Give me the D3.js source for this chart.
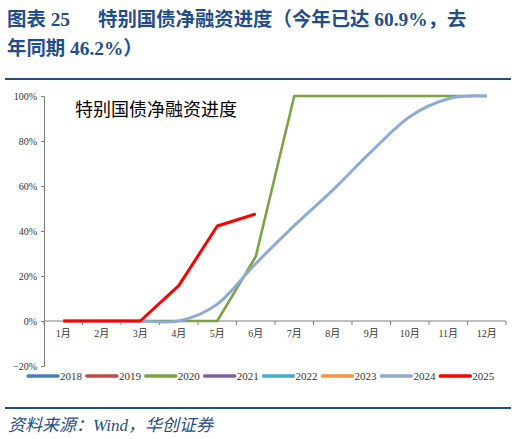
<!DOCTYPE html>
<html>
<head>
<meta charset="utf-8">
<script src="https://cdn.jsdelivr.net/npm/d3@7"></script>
<style>
  body { margin: 0; background: #fff; }
  text { font-family: "Liberation Serif", "Noto Sans CJK SC", serif; }
</style>
</head>
<body>
<div id="chart"></div>
<script>
// chart data
const months = ["1月", "2月", "3月", "4月", "5月", "6月", "7月", "8月", "9月", "10月", "11月", "12月"];
const years = ["2018", "2019", "2020", "2021", "2022", "2023", "2024", "2025"];
const yTicks = [-0.2, 0, 0.2, 0.4, 0.6, 0.8, 1.0];
const s2018 = [];
const s2019 = [];
const s2020 = [0, 0, 0, 0, 0, 0.286, 1, 1, 1, 1, 1, 1];
const s2021 = [];
const s2022 = [];
const s2023 = [];
const s2024 = [0, 0, 0, 0, 0.075, 0.255, 0.424, 0.582, 0.753, 0.908, 0.988, 1];
const s2025 = [0, 0, 0, 0.157, 0.422, 0.476];

const seriesList = [s2018, s2019, s2020, s2021, s2022, s2023, s2024, s2025];
const colors = ["#4a7ebb", "#be4b48", "#7ba346", "#7d60a0", "#46aac5", "#f69240", "#8eaad8", "#ff0000"];
const widths = [3, 3, 2.6, 3, 3, 3, 3, 3];

const W = 516, H = 439;
const navy = "#1f4e8c";

const svg = d3.select("#chart").append("svg")
  .attr("width", W).attr("height", H);

svg.append("rect").attr("width", W).attr("height", H).attr("fill", "#fff");

// Heading
const head = svg.append("g")
  .attr("fill", navy)
  .style("font-weight", "bold")
  .style("font-size", "19.4px");
head.append("text").attr("x", 7).attr("y", 26).text("图表 25");
head.append("text").attr("x", 98).attr("y", 26).text("特别国债净融资进度（今年已达 60.9%，去");
head.append("text").attr("x", 7).attr("y", 55).text("年同期 46.2%）");

svg.append("line")
  .attr("x1", 5).attr("x2", 511).attr("y1", 79).attr("y2", 79)
  .attr("stroke", navy).attr("stroke-width", 2);

// Scales
const x = d3.scaleBand().domain(months).range([44, 506]);
const y = d3.scaleLinear().domain([-0.2, 1]).range([366, 96]);

// Y axis
const yAxis = svg.append("g")
  .attr("transform", "translate(44,0)")
  .call(d3.axisLeft(y).tickValues(yTicks).tickFormat(d3.format(".0%")).tickSize(3).tickPadding(4));
yAxis.select(".domain").attr("stroke", "#7f7f7f");
yAxis.selectAll(".tick line").attr("stroke", "#7f7f7f");
yAxis.selectAll(".tick text")
  .attr("fill", "#333")
  .style("font-size", "10px")
  .style("font-family", "'Liberation Serif', serif");

// X axis on the zero line, ticks between categories
const y0 = y(0);
const xAxis = svg.append("g");
xAxis.append("line")
  .attr("x1", x.range()[0]).attr("x2", x.range()[1])
  .attr("y1", y0).attr("y2", y0)
  .attr("stroke", "#7f7f7f");
const bounds = months.map((m) => x(m) + x.bandwidth()).concat([x(months[0])]);
xAxis.selectAll(".xt")
  .data(bounds)
  .enter()
  .append("line")
  .attr("class", "xt")
  .attr("x1", (d) => d).attr("x2", (d) => d)
  .attr("y1", y0).attr("y2", y0 + 4)
  .attr("stroke", "#7f7f7f");
xAxis.selectAll(".xl")
  .data(months)
  .enter()
  .append("text")
  .attr("class", "xl")
  .attr("x", (d) => x(d) + x.bandwidth() / 2)
  .attr("y", y0 + 16)
  .attr("text-anchor", "middle")
  .attr("fill", "#333")
  .style("font-size", "10px")
  .text((d) => d);

// Inner title
svg.append("text")
  .attr("x", 75).attr("y", 116)
  .attr("fill", "#000")
  .style("font-size", "18px")
  .text("特别国债净融资进度");

// Lines
const line = d3.line()
  .x((d, i) => x(months[i]) + x.bandwidth() / 2)
  .y((d) => y(d));

seriesList.forEach((vals, i) => {
  if (!vals.length) return;
  const curve = years[i] === "2024" ? d3.curveCardinal.tension(0) : d3.curveLinear;
  svg.append("path")
    .datum(vals)
    .attr("fill", "none")
    .attr("stroke", colors[i])
    .attr("stroke-width", widths[i])
    .attr("stroke-linejoin", "round")
    .attr("d", line.curve(curve));
});

// Legend
const legend = svg.append("g").attr("transform", "translate(28,376)");
years.forEach((yr, i) => {
  const g = legend.append("g").attr("transform", `translate(${i * 58.9},0)`);
  g.append("line")
    .attr("x1", 0).attr("x2", 30)
    .attr("stroke", colors[i])
    .attr("stroke-width", 3.5)
    .attr("stroke-linecap", "round");
  g.append("text")
    .attr("x", 32).attr("y", 4)
    .attr("fill", "#333")
    .style("font-size", "11px")
    .text(yr);
});

// Footer
svg.append("line")
  .attr("x1", 5).attr("x2", 511).attr("y1", 408).attr("y2", 408)
  .attr("stroke", navy).attr("stroke-width", 2);

svg.append("text")
  .attr("x", 8).attr("y", 431)
  .attr("fill", navy)
  .style("font-size", "17px")
  .style("font-style", "italic")
  .text("资料来源：Wind，华创证券");
</script>
</body>
</html>
